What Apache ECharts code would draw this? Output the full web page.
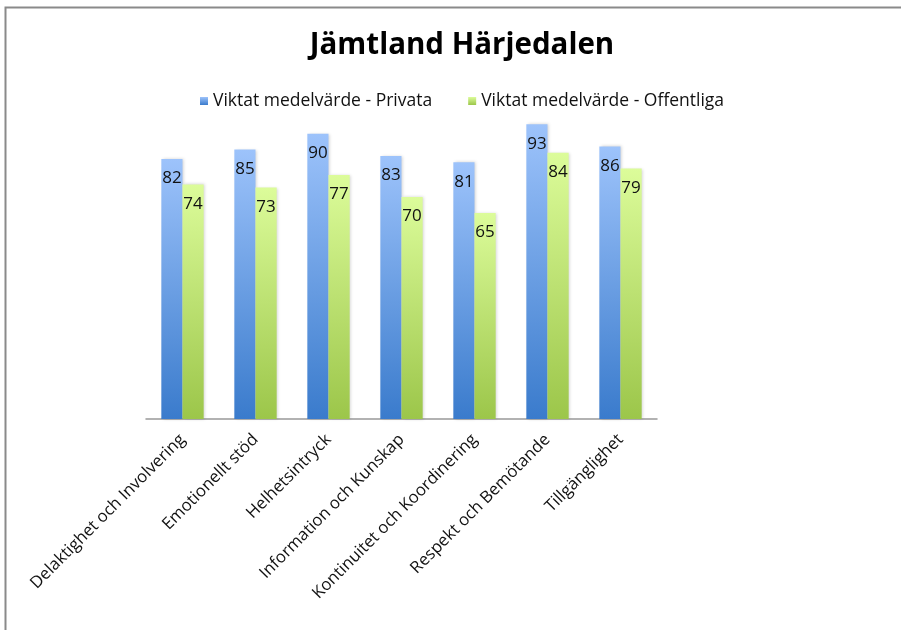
<!DOCTYPE html>
<html>
<head>
<meta charset="utf-8">
<script src="https://cdn.jsdelivr.net/npm/echarts@6/dist/echarts.min.js"></script>
<style>
  html, body { margin: 0; padding: 0; background: #fff; overflow: hidden; }
  #chart { width: 901px; height: 630px; }
</style>
</head>
<body>
<div id="chart"></div>
<script>
  const categories = [
    "Delaktighet och Involvering",
    "Emotionellt stöd",
    "Helhetsintryck",
    "Information och Kunskap",
    "Kontinuitet och Koordinering",
    "Respekt och Bemötande",
    "Tillgänglighet",
  ];
  const privata = [82, 85, 90, 83, 81, 93, 86];
  const offentliga = [74, 73, 77, 70, 65, 84, 79];
  const seriesNames = ["Viktat medelvärde - Privata", "Viktat medelvärde - Offentliga"];

  const font = "'Open Sans', 'Noto Sans', sans-serif";

  const grad = (top, bottom) =>
    new echarts.graphic.LinearGradient(0, 0, 0, 1, [
      { offset: 0, color: top },
      { offset: 1, color: bottom },
    ]);

  const label = {
    show: true,
    position: "insideTop",
    distance: 11,
    color: "#111",
    fontSize: 17,
    fontFamily: font,
  };

  const chart = echarts.init(document.getElementById("chart"));
  chart.setOption({
    animation: false,
    title: {
      text: "Jämtland Härjedalen",
      left: 457,
      textAlign: "center",
      top: 26,
      textStyle: { fontSize: 29.5, fontWeight: "bold", fontFamily: font, color: "#000" },
    },
    legend: {
      top: 87,
      left: 195,
      icon: "rect",
      itemWidth: 8,
      itemHeight: 8,
      itemGap: 36,
      textStyle: { fontSize: 17.5, fontFamily: font, color: "#111" },
      data: seriesNames,
    },
    grid: { left: 146, right: 244, top: 102, bottom: 211 },
    xAxis: {
      type: "category",
      data: categories,
      axisTick: { show: false },
      axisLine: { lineStyle: { color: "#999", width: 1.5 } },
      axisLabel: {
        rotate: 45,
        margin: 18,
        fontSize: 16.7,
        fontFamily: font,
        color: "#111",
        interval: 0,
      },
    },
    yAxis: {
      type: "value",
      min: 0,
      max: 100,
      show: false,
      splitLine: { show: false },
    },
    series: [
      {
        name: seriesNames[0],
        type: "bar",
        data: privata,
        barGap: "0%",
        barCategoryGap: "42%",
        itemStyle: {
          color: grad("#9dc3fb", "#3a7bcc"),
          shadowColor: "rgba(0,0,0,0.18)",
          shadowBlur: 3,
          shadowOffsetX: 1.5,
        },
        label,
      },
      {
        name: seriesNames[1],
        type: "bar",
        data: offentliga,
        itemStyle: {
          color: grad("#dcfc9a", "#9cc64a"),
          shadowColor: "rgba(0,0,0,0.18)",
          shadowBlur: 3,
          shadowOffsetX: 1.5,
        },
        label,
      },
    ],
    graphic: [
      {
        type: "polyline",
        silent: true,
        shape: { points: [[5.5, 640], [5.5, 7.5], [920, 7.5]] },
        style: { fill: null, stroke: "#8a8a8a", lineWidth: 2 },
      },
    ],
  });
</script>
</body>
</html>
